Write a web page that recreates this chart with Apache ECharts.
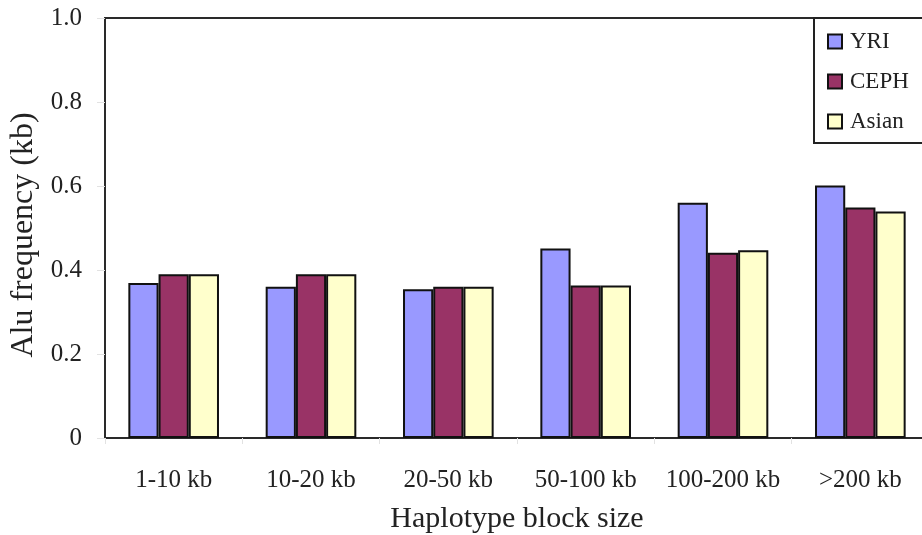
<!DOCTYPE html>
<html>
<head>
<meta charset="utf-8">
<script src="https://cdn.jsdelivr.net/npm/echarts@6/dist/echarts.min.js"></script>
<style>
  html, body { margin: 0; padding: 0; background: #fff; overflow: hidden; }
  /* 图右边框在窗口外, 容器略宽于窗口 */
  #chart { width: 940px; height: 535px; }
</style>
</head>
<body>
<div id="chart"></div>
<script>
// 单倍型区块大小
var categories = ["1-10 kb", "10-20 kb", "20-50 kb", "50-100 kb", "100-200 kb", ">200 kb"];
var yri = [0.369, 0.36, 0.354, 0.451, 0.56, 0.601];
var ceph = [0.39, 0.39, 0.36, 0.363, 0.441, 0.549];
var asian = [0.39, 0.39, 0.36, 0.363, 0.447, 0.539];
var yTicks = [0, 0.2, 0.4, 0.6, 0.8, 1.0];

var font = "'Liberation Serif', 'Times New Roman', serif";

function drawChart() {
  // 实例化对象
  var myChart = echarts.init(document.getElementById("chart"));
  var barBorder = {
    borderColor: "#111",
    borderWidth: 2
  };
  var option = {
    animation: false,
    color: ["#9999ff", "#993366", "#ffffcc"],
    textStyle: {
      fontFamily: font
    },
    legend: {
      orient: "vertical",
      left: 814,
      top: 18,
      padding: [12, 30, 10, 13],
      borderColor: "#222",
      borderWidth: 2,
      backgroundColor: "#fff",
      itemWidth: 14,
      itemHeight: 14,
      itemGap: 17,
      icon: "rect",
      textStyle: {
        fontFamily: font,
        fontSize: 23,
        lineHeight: 23,
        color: "#222",
        padding: [0, 0, 0, 3]
      },
      data: ["YRI", "CEPH", "Asian"]
    },
    grid: {
      left: 105,
      top: 18,
      width: 824,
      height: 420,
      show: true,
      borderColor: "#2a2a2a",
      borderWidth: 2,
      containLabel: false,
      // 不让v6自动收缩绘图区
      outerBoundsMode: "none"
    },
    xAxis: {
      type: "category",
      data: categories,
      name: "Haplotype block size",
      nameLocation: "middle",
      nameGap: 66,
      nameTextStyle: {
        fontFamily: font,
        fontSize: 30,
        color: "#222"
      },
      axisLine: {
        lineStyle: { color: "#2a2a2a", width: 2 }
      },
      axisTick: {
        show: true,
        length: 6,
        lineStyle: { color: "#e2e2e2" }
      },
      axisLabel: {
        interval: 0,
        margin: 30,
        fontFamily: font,
        fontSize: 25,
        color: "#222"
      }
    },
    yAxis: {
      type: "value",
      min: 0,
      max: 1,
      interval: 0.2,
      name: "Alu frequency (kb)",
      nameLocation: "middle",
      nameGap: 65,
      nameTextStyle: {
        fontFamily: font,
        fontSize: 32,
        color: "#222",
        padding: [0, 14, 0, 0]
      },
      axisLine: {
        show: true,
        lineStyle: { color: "#2a2a2a", width: 2 }
      },
      axisTick: {
        show: true,
        length: 8,
        lineStyle: { color: "#e2e2e2" }
      },
      splitLine: { show: false },
      axisLabel: {
        margin: 23,
        fontFamily: font,
        fontSize: 25,
        color: "#222",
        formatter: function (v) {
          var i = yTicks.indexOf(Math.round(v * 10) / 10);
          if (i === 0) return "0";
          return yTicks[i].toFixed(1);
        }
      }
    },
    series: [{
        name: "YRI",
        type: "bar",
        barGap: "0%",
        barCategoryGap: "34%",
        itemStyle: barBorder,
        data: yri
      },
      {
        name: "CEPH",
        type: "bar",
        barGap: "0%",
        barCategoryGap: "34%",
        itemStyle: barBorder,
        data: ceph
      },
      {
        name: "Asian",
        type: "bar",
        barGap: "0%",
        barCategoryGap: "34%",
        itemStyle: barBorder,
        data: asian
      }
    ]
  };
  // 把配置给实例对象
  myChart.setOption(option);
}
drawChart();
</script>
</body>
</html>
